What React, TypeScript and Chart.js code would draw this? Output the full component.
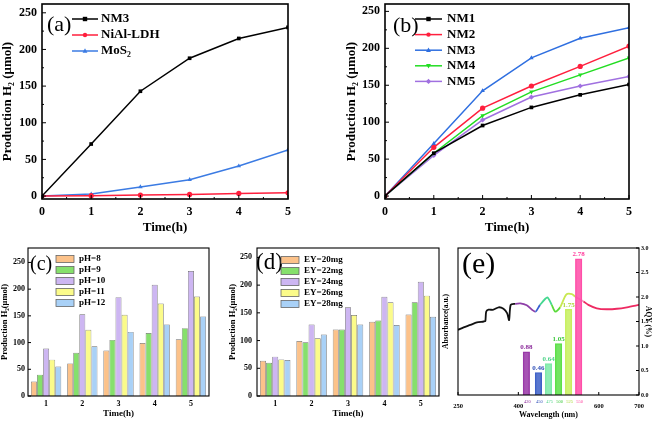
import React, { useEffect, useRef } from 'react';
import { Chart, registerables } from 'chart.js';
Chart.register(...registerables);
Chart.defaults.color = '#000';

const SERIF = '"Liberation Serif", "Times New Roman", serif';
const fnt = (size: number, weight: any = 'bold') => ({ family: SERIF, size, weight, lineHeight: 1.2 });

// ---------------- data ----------------
const hoursAB = [0, 1, 2, 3, 4, 5];
const hourMinorAB = [0.5, 1.5, 2.5, 3.5, 4.5];
const yTicksAB = [0, 50, 100, 150, 200, 250];
const yMinorAB = [25, 75, 125, 175, 225];

const seriesA = ['NM3', 'NiAl-LDH', 'MoS₂'];
const nm3A = [0, 71, 143, 188, 215, 230];
const nialA = [0, 0.5, 1.3, 2.2, 3.6, 4.5];
const mos2A = [0, 2.7, 12.5, 22.4, 41, 63];

const seriesB = ['NM1', 'NM2', 'NM3', 'NM4', 'NM5'];
const nm1B = [0, 58, 95.5, 120, 137, 151];
const nm2B = [0, 66, 119, 149, 175.5, 203];
const nm3B = [0, 71, 142.5, 187, 213.6, 228];
const nm4B = [0, 58, 109, 141, 164, 187];
const nm5B = [0, 55, 103, 134, 149, 162];

const hoursCD = ['1', '2', '3', '4', '5'];
const yTicksCD = [0, 50, 100, 150, 200, 250];

const seriesC = ['pH=8', 'pH=9', 'pH=10', 'pH=11', 'pH=12'];
const ph8 = [27, 61, 85, 99, 106];
const ph9 = [40, 81, 105, 118, 127];
const ph10 = [89, 153, 185, 208, 234];
const ph11 = [68, 124, 152, 173, 186];
const ph12 = [55, 93, 120, 134, 149];

const seriesD = ['EY=20mg', 'EY=22mg', 'EY=24mg', 'EY=26mg', 'EY=28mg'];
const ey20 = [63.5, 99, 120, 134, 147];
const ey22 = [60, 97, 120, 136, 169];
const ey24 = [71, 129, 160, 179, 206];
const ey26 = [66, 104, 146, 169, 181];
const ey28 = [65, 111, 129, 128, 143];

const wlTicksE = [250, 400, 600, 700];
const aqyTicksE = [0, 0.5, 1, 1.5, 2, 2.5, 3];
const absWl = [250, 264, 281, 297, 314, 318, 320, 326, 338, 351, 363, 372, 377, 381, 392, 405, 421, 442, 454, 472, 483, 492, 504, 519, 533, 541, 562, 574, 595, 620, 645, 670, 700];
const absVal = [1.33, 1.38, 1.43, 1.48, 1.5, 1.51, 1.7, 1.74, 1.74, 1.79, 1.76, 1.67, 1.53, 1.84, 1.86, 1.87, 1.83, 1.7, 1.84, 1.99, 1.84, 1.7, 1.79, 2.05, 2.06, 2.01, 1.91, 1.84, 1.77, 1.75, 1.76, 1.79, 1.84];
const aqyWl = [420, 450, 475, 500, 525, 550];
const aqyVal = [0.88, 0.46, 0.64, 1.05, 1.75, 2.78];

// ---------------- styles ----------------
const stylesA = [
  { color: '#000000', marker: 'rect', rot: 0 },
  { color: '#ff1f3d', marker: 'circle', rot: 0 },
  { color: '#3b7be3', marker: 'triangle', rot: 0 },
];
const stylesB = [
  { color: '#000000', marker: 'rect', rot: 0 },
  { color: '#ff1f3d', marker: 'circle', rot: 0 },
  { color: '#2f6fe0', marker: 'triangle', rot: 0 },
  { color: '#22dd22', marker: 'triangle', rot: 180 },
  { color: '#a070e0', marker: 'rectRot', rot: 0 },
];
const barColors = ['#fcc28a', '#86e06c', '#cdb6f2', '#fbfb8a', '#a9d1f7'];
const aqyColors = ['#9a3aa8', '#3f62c8', '#7eeaa8', '#5ee04a', '#c8f060', '#ff4fa8'];
const aqyTextColors = ['#8b2a9a', '#3050b8', '#4fd48a', '#3cc83c', '#aad838', '#ff3c9c'];

function absColor(w: number) {
  if (w < 398) return '#111111';
  if (w < 432) return '#8e3fa8';
  if (w < 458) return '#3a5fd0';
  if (w < 482) return '#45d890';
  if (w < 508) return '#5ada3a';
  if (w < 545) return '#c8e850';
  if (w < 565) return '#f4a0c0';
  return '#ee2a62';
}

// ---------------- plugins ----------------
function drawMarker(ctx: CanvasRenderingContext2D, kind: string, rot: number, x: number, y: number, r: number, color: string) {
  ctx.save();
  ctx.fillStyle = color;
  ctx.translate(x, y);
  ctx.rotate((rot * Math.PI) / 180);
  ctx.beginPath();
  if (kind === 'rect') ctx.rect(-r, -r, 2 * r, 2 * r);
  else if (kind === 'circle') ctx.arc(0, 0, r, 0, Math.PI * 2);
  else if (kind === 'triangle') { ctx.moveTo(0, -r * 1.2); ctx.lineTo(r * 1.1, r * 0.8); ctx.lineTo(-r * 1.1, r * 0.8); ctx.closePath(); }
  else if (kind === 'rectRot') { ctx.moveTo(0, -r * 1.2); ctx.lineTo(r * 1.2, 0); ctx.lineTo(0, r * 1.2); ctx.lineTo(-r * 1.2, 0); ctx.closePath(); }
  ctx.fill();
  ctx.restore();
}

const framePlugin = {
  id: 'frame',
  afterDatasetsDraw(chart: any, _a: any, o: any) {
    if (!o || !o.show) return;
    const { ctx, chartArea: a } = chart;
    ctx.save();
    ctx.strokeStyle = '#000';
    ctx.lineWidth = o.lineWidth || 1;
    ctx.strokeRect(a.left, a.top, a.right - a.left, a.bottom - a.top);
    ctx.lineWidth = o.tickWidth || 1;
    ctx.beginPath();
    const xs = chart.scales[o.xId || 'x'];
    const ys = chart.scales[o.yId || 'y'];
    const xt = (vals: number[], len: number) => vals.forEach((v) => { const p = xs.getPixelForValue(v); ctx.moveTo(p, a.bottom); ctx.lineTo(p, a.bottom - len); });
    const yt = (vals: number[], len: number) => vals.forEach((v) => {
      const p = ys.getPixelForValue(v);
      if (o.ySide === 'right') { ctx.moveTo(a.right, p); ctx.lineTo(a.right - len, p); }
      else { ctx.moveTo(a.left, p); ctx.lineTo(a.left + len, p); }
    });
    xt(o.xMajor || [], o.majorLen || 4);
    xt(o.xMinor || [], o.minorLen || 2);
    yt(o.yMajor || [], o.majorLen || 4);
    yt(o.yMinor || [], o.minorLen || 2);
    ctx.stroke();
    ctx.restore();
  },
};

const overlayPlugin = {
  id: 'overlay',
  afterDraw(chart: any, _a: any, o: any) {
    if (!o) return;
    const { ctx, chartArea: a } = chart;
    ctx.save();
    ctx.textAlign = 'left';
    ctx.textBaseline = 'middle';
    if (o.tag) {
      ctx.font = o.tag.font;
      ctx.fillStyle = '#000';
      ctx.fillText(o.tag.text, a.left + o.tag.dx, a.top + o.tag.dy);
    }
    if (o.legend) {
      const L = o.legend;
      L.items.forEach((it: any, i: number) => {
        const x0 = a.left + L.dx;
        const cy = a.top + L.dy + i * L.rowH;
        if (L.kind === 'line') {
          ctx.strokeStyle = it.color;
          ctx.lineWidth = 1.5;
          ctx.beginPath();
          ctx.moveTo(x0, cy);
          ctx.lineTo(x0 + L.w, cy);
          ctx.stroke();
          drawMarker(ctx, it.marker, it.rot, x0 + L.w / 2, cy, 2.2, it.color);
        } else {
          ctx.fillStyle = it.color;
          ctx.fillRect(x0, cy - L.h / 2, L.w, L.h);
          ctx.strokeStyle = '#666';
          ctx.lineWidth = 0.8;
          ctx.strokeRect(x0, cy - L.h / 2, L.w, L.h);
        }
        ctx.fillStyle = '#000';
        ctx.font = L.font;
        ctx.fillText(it.label, x0 + L.w + L.gap, cy);
      });
    }
    if (o.barLabels) {
      const B = o.barLabels;
      const xs = chart.scales.x;
      const ys = chart.scales[B.yId];
      ctx.textAlign = 'center';
      B.x.forEach((xv: number, i: number) => {
        const px = xs.getPixelForValue(xv);
        const py = ys.getPixelForValue(B.y[i]);
        ctx.fillStyle = B.colors[i];
        ctx.font = B.font;
        ctx.textBaseline = 'bottom';
        ctx.fillText(B.y[i].toFixed(2), px, py - 1);
        ctx.font = B.smallFont;
        ctx.textBaseline = 'middle';
        ctx.fillText(String(xv), px + 1, a.bottom + 7);
      });
    }
    ctx.restore();
  },
};

const fixAxis = (size: number, horizontal: boolean) => (s: any) => {
  if (horizontal) s.height = size; else s.width = size;
  s.paddingLeft = 0; s.paddingRight = 0; s.paddingTop = 0; s.paddingBottom = 0;
};
const setTicks = (vals: number[]) => (s: any) => { s.ticks = vals.map((v) => ({ value: v })); };

// ---------------- configs ----------------
function lineConfig(series: string[], values: number[][], styles: any[], yMin: number, yMax: number, yWidth: number, padRight: number, tag: any, legend: any) {
  return {
    type: 'line',
    data: {
      datasets: series.map((label, i) => ({
        label,
        data: hoursAB.map((x, j) => ({ x, y: values[i][j] })),
        borderColor: styles[i].color,
        backgroundColor: styles[i].color,
        pointStyle: styles[i].marker,
        pointRotation: styles[i].rot,
        pointRadius: 2.6,
        pointBorderWidth: 0,
        borderWidth: 1.5,
        tension: 0,
      })),
    },
    options: {
      animation: false,
      responsive: false,
      devicePixelRatio: 1,
      layout: { padding: { top: 1, right: padRight, left: 0, bottom: 0 } },
      plugins: {
        legend: { display: false },
        tooltip: { enabled: false },
        frame: { show: true, lineWidth: 1.6, xMajor: hoursAB, xMinor: hourMinorAB, yMajor: yTicksAB, yMinor: yMinorAB, majorLen: 4, minorLen: 2 },
        overlay: {
          tag,
          legend: {
            ...legend,
            kind: 'line',
            items: series.map((label, i) => ({ label, color: styles[i].color, marker: styles[i].marker, rot: styles[i].rot })),
          },
        },
      },
      scales: {
        x: {
          type: 'linear', min: 0, max: 5,
          afterBuildTicks: setTicks(hoursAB),
          afterFit: fixAxis(36, true),
          grid: { display: false, drawTicks: false },
          border: { display: false },
          ticks: { font: fnt(12), padding: 6 },
          title: { display: true, text: 'Time(h)', font: fnt(13), padding: { top: 0, bottom: 0 } },
        },
        y: {
          min: yMin, max: yMax,
          afterBuildTicks: setTicks(yTicksAB),
          afterFit: fixAxis(yWidth, false),
          grid: { display: false, drawTicks: false },
          border: { display: false },
          ticks: { font: fnt(12), padding: 5 },
          title: { display: true, text: 'Production H₂ (μmol)', font: fnt(13), padding: { top: 0, bottom: 0 } },
        },
      },
    },
    plugins: [framePlugin, overlayPlugin],
  };
}

function barConfig(series: string[], values: number[][], yMax: number, yWidth: number, padRight: number, yPad: number, yTitlePad: number, tag: any, legend: any) {
  return {
    type: 'bar',
    data: {
      labels: hoursCD,
      datasets: series.map((label, i) => ({
        label,
        data: values[i],
        backgroundColor: barColors[i],
        borderColor: '#6a6a6a',
        borderWidth: 0.7,
        categoryPercentage: 0.84,
        barPercentage: 0.98,
      })),
    },
    options: {
      animation: false,
      responsive: false,
      devicePixelRatio: 1,
      layout: { padding: { top: 13, right: padRight, left: 0, bottom: 0 } },
      plugins: {
        legend: { display: false },
        tooltip: { enabled: false },
        frame: { show: true, lineWidth: 1.1, yMajor: yTicksCD, majorLen: 3 },
        overlay: {
          tag,
          legend: {
            ...legend,
            kind: 'box',
            items: series.map((label, i) => ({ label, color: barColors[i] })),
          },
        },
      },
      scales: {
        x: {
          afterFit: fixAxis(25, true),
          grid: { display: false, drawTicks: false },
          border: { display: false },
          ticks: { font: fnt(8), padding: 3 },
          title: { display: true, text: 'Time(h)', font: fnt(9), padding: { top: 0, bottom: 1.5 } },
        },
        y: {
          min: 0, max: yMax,
          afterBuildTicks: setTicks(yTicksCD),
          afterFit: fixAxis(yWidth, false),
          grid: { display: false, drawTicks: false },
          border: { display: false },
          ticks: { font: fnt(8), padding: yPad },
          title: { display: true, text: 'Production H₂(μmol)', font: fnt(8.5), padding: { top: yTitlePad, bottom: 0 } },
        },
      },
    },
    plugins: [framePlugin, overlayPlugin],
  };
}

function configE() {
  return {
    type: 'bar',
    data: {
      datasets: [
        {
          type: 'bar',
          label: 'AQY',
          yAxisID: 'yAqy',
          data: aqyWl.map((x, i) => ({ x, y: aqyVal[i] })),
          backgroundColor: aqyColors.map((c) => c + 'dd'),
          borderColor: aqyColors,
          borderWidth: 0.8,
          barThickness: 6.5,
          order: 0,
        },
        {
          type: 'line',
          label: 'Absorbance',
          yAxisID: 'yAbs',
          data: absWl.map((x, i) => ({ x, y: absVal[i] })),
          borderColor: '#111',
          borderWidth: 1.8,
          pointRadius: 0,
          tension: 0.25,
          segment: { borderColor: (c: any) => absColor((c.p0.parsed.x + c.p1.parsed.x) / 2) },
          order: 1,
        },
      ],
    },
    options: {
      animation: false,
      responsive: false,
      devicePixelRatio: 1,
      layout: { padding: { top: 13, right: 0, left: 0, bottom: 0 } },
      plugins: {
        legend: { display: false },
        tooltip: { enabled: false },
        frame: { show: true, lineWidth: 1.1, yId: 'yAqy', ySide: 'right', yMajor: aqyTicksE, xMajor: wlTicksE, majorLen: 3 },
        overlay: {
          tag: { text: '(e)', dx: 4, dy: 17, font: `30px ${SERIF}` },
          barLabels: { x: aqyWl, y: aqyVal, yId: 'yAqy', colors: aqyTextColors, font: `bold 7px ${SERIF}`, smallFont: `4.5px ${SERIF}` },
        },
      },
      scales: {
        x: {
          type: 'linear', min: 250, max: 700, offset: false,
          afterBuildTicks: setTicks(wlTicksE),
          afterFit: fixAxis(26, true),
          grid: { display: false, drawTicks: false },
          border: { display: false },
          ticks: { font: fnt(6.5), padding: 7 },
          title: { display: true, text: 'Wavelength (nm)', font: fnt(8), padding: { top: 0, bottom: 1.2 } },
        },
        yAbs: {
          position: 'left', min: 0, max: 3,
          afterFit: fixAxis(18, false),
          grid: { display: false, drawTicks: false },
          border: { display: false },
          ticks: { display: false },
          title: { display: true, text: 'Absorbance(a.u.)', font: fnt(7.5), padding: { top: 1.5, bottom: 0 } },
        },
        yAqy: {
          position: 'right', min: 0, max: 3,
          afterBuildTicks: setTicks(aqyTicksE),
          afterFit: fixAxis(15, false),
          grid: { display: false, drawTicks: false },
          border: { display: false },
          ticks: { font: fnt(6), padding: 2, callback: (v: any) => Number(v).toFixed(1) },
          title: { display: true, text: 'AQY (%)', font: fnt(7.5), padding: { top: 1.5, bottom: 0 } },
        },
      },
    },
    plugins: [framePlugin, overlayPlugin],
  };
}

// ---------------- components ----------------
function ChartBox({ left, top, width, height, make }: { left: number; top: number; width: number; height: number; make: () => any }) {
  const ref = useRef<HTMLCanvasElement>(null);
  useEffect(() => {
    const chart = new Chart(ref.current as HTMLCanvasElement, make());
    return () => chart.destroy();
  }, []);
  return <canvas ref={ref} width={width} height={height} style={{ position: 'absolute', left, top, width, height }} />;
}

export default function App() {
  return (
    <div style={{ position: 'absolute', left: 0, top: 0, width: 660, height: 421, background: '#fff', overflow: 'hidden' }}>
      <ChartBox left={0} top={0} width={330} height={235}
        make={() => lineConfig(seriesA, [nm3A, nialA, mos2A], stylesA, -4, 262, 42, 42,
          { text: '(a)', dx: 5, dy: 21, font: `22px ${SERIF}` },
          { dx: 30, dy: 15, rowH: 16, w: 26, gap: 3, font: `bold 13px ${SERIF}` })} />
      <ChartBox left={344} top={0} width={316} height={235}
        make={() => lineConfig(seriesB, [nm1B, nm2B, nm3B, nm4B, nm5B], stylesB, -4, 260, 41, 31,
          { text: '(b)', dx: 8, dy: 22, font: `22px ${SERIF}` },
          { dx: 30, dy: 15, rowH: 15.6, w: 27, gap: 5, font: `bold 13px ${SERIF}` })} />
      <ChartBox left={0} top={235} width={220} height={186}
        make={() => barConfig(seriesC, [ph8, ph9, ph10, ph11, ph12], 277, 28, 11, 3, 0,
          { text: '(c)', dx: 2, dy: 17, font: `20px ${SERIF}` },
          { dx: 28, dy: 11, rowH: 11, w: 18, h: 7, gap: 5, font: `bold 9px ${SERIF}` })} />
      <ChartBox left={227} top={235} width={213} height={186}
        make={() => barConfig(seriesD, [ey20, ey22, ey24, ey26, ey28], 267, 30, 1, 5, 1,
          { text: '(d)', dx: -1, dy: 15, font: `23px ${SERIF}` },
          { dx: 24, dy: 12, rowH: 11, w: 18, h: 7, gap: 5, font: `bold 9px ${SERIF}` })} />
      <ChartBox left={440} top={235} width={214} height={186} make={configE} />
    </div>
  );
}
